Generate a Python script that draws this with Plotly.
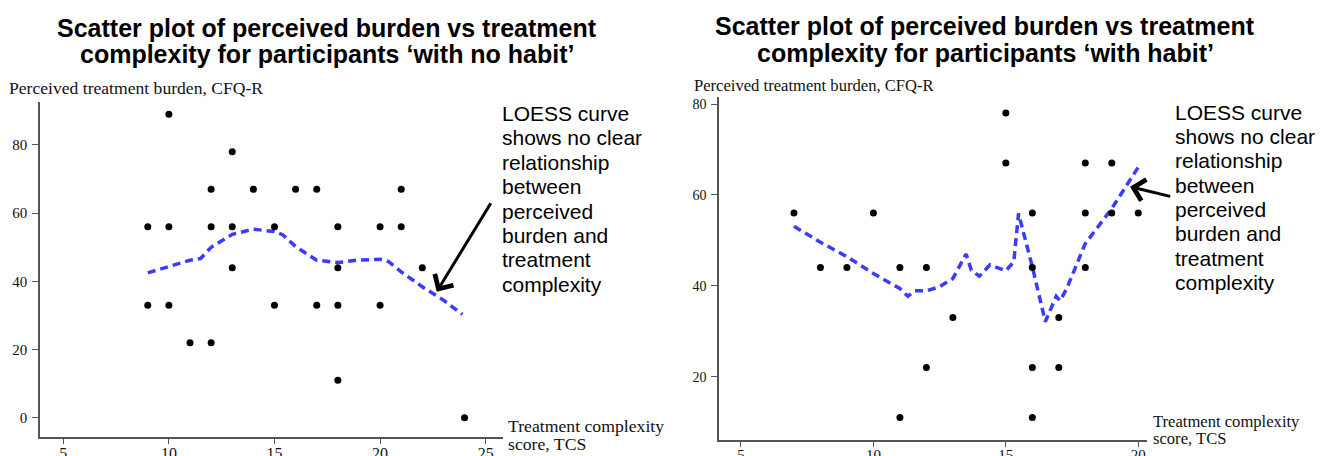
import plotly.graph_objects as go

W, H = 1329, 456

# ---------------- data ----------------
# participants 'with no habit'
x_nohabit = [9, 9, 10, 10, 10, 11, 12, 12, 12, 13, 13, 13, 14, 15, 15, 16, 17, 17,
             18, 18, 18, 18, 20, 20, 21, 21, 22, 24]
y_nohabit = [56, 33, 89, 56, 33, 22, 67, 56, 22, 78, 56, 44, 67, 56, 33, 67, 67, 33,
             56, 44, 33, 11, 56, 33, 67, 56, 44, 0]
loess_x_nohabit = [9, 10, 11, 11.5, 12, 13, 14, 15, 15.4, 16, 17, 18, 18.9, 20, 20.4,
                   21, 22, 23, 23.9]
loess_y_nohabit = [42.5, 44.3, 46.2, 46.7, 50, 53.8, 55.3, 54.6, 53.6, 50.2, 46.2, 45.5,
                   46.2, 46.5, 45.8, 42.8, 38.4, 34.5, 30.3]

# participants 'with habit'
x_habit = [7, 8, 9, 10, 11, 11, 12, 12, 13, 15, 15, 16, 16, 16, 16, 17, 17, 18, 18, 18,
           19, 19, 20]
y_habit = [56, 44, 44, 56, 44, 11, 44, 22, 33, 78, 67, 56, 44, 22, 11, 33, 22, 67, 56, 44,
           67, 56, 56]
loess_x_habit = [7, 8, 9, 10, 11, 11.3, 11.57, 12, 12.5, 13, 13.5, 13.7, 14, 14.4, 15,
                 15.3, 15.48, 16, 16.49, 16.9, 17.05, 17.3, 18, 19, 20]
loess_y_habit = [53.1, 49.6, 46.4, 42.7, 39.4, 37.7, 38.9, 38.9, 39.8, 41.6, 47.0, 43.4,
                 42.1, 44.6, 43.3, 45.3, 55.9, 44.2, 32.1, 37.7, 36.7, 39.4, 49.3, 57.0,
                 66.1]

x_ticks_nohabit = [5, 10, 15, 20, 25]
y_ticks_nohabit = [0, 20, 40, 60, 80]
x_ticks_habit = [5, 10, 15, 20]
y_ticks_habit = [20, 40, 60, 80]

title_nohabit = ["Scatter plot of perceived burden vs treatment",
                 "complexity for participants \u2018with no habit\u2019"]
title_habit = ["Scatter plot of perceived burden vs treatment",
               "complexity for participants \u2018with habit\u2019"]
note_lines = ["LOESS curve", "shows no clear", "relationship", "between",
              "perceived", "burden and", "treatment", "complexity"]
y_label = "Perceived treatment burden, CFQ-R"
x_label = ["Treatment complexity", "score, TCS"]

# ---------------- helpers ----------------
def px(x):
    return x / W

def py(y):
    return (H - y) / H

SANS = "Liberation Sans, Arial, sans-serif"
SERIF = "Liberation Serif, Times New Roman, serif"
AXC = "#555555"
LOESS_C = "#3b3bff"

fig = go.Figure()

fig.add_trace(go.Scatter(x=loess_x_nohabit, y=loess_y_nohabit, mode="lines",
                         line=dict(color=LOESS_C, width=3.5, dash="8px,5px"),
                         xaxis="x", yaxis="y", hoverinfo="skip", showlegend=False))
fig.add_trace(go.Scatter(x=x_nohabit, y=y_nohabit, mode="markers",
                         marker=dict(color="black", size=7),
                         xaxis="x", yaxis="y", cliponaxis=False, showlegend=False))
fig.add_trace(go.Scatter(x=loess_x_habit, y=loess_y_habit, mode="lines",
                         line=dict(color=LOESS_C, width=3.5, dash="8px,5px"),
                         xaxis="x2", yaxis="y2", hoverinfo="skip", showlegend=False))
fig.add_trace(go.Scatter(x=x_habit, y=y_habit, mode="markers",
                         marker=dict(color="black", size=7),
                         xaxis="x2", yaxis="y2", cliponaxis=False, showlegend=False))

def axis(domain, rng, ticks, anchor, size, ticklen, standoff):
    return dict(domain=domain, range=rng, tickvals=ticks, anchor=anchor,
                showgrid=False, zeroline=False, showline=True, linecolor=AXC,
                linewidth=1.5, ticks="outside", ticklen=ticklen, tickcolor=AXC,
                tickwidth=1.2, ticklabelstandoff=standoff,
                tickfont=dict(family=SERIF, size=size, color="#111"), fixedrange=True)

annotations = []

def text(x, y, s, size, family, bold=False, xanchor="left", color="#111"):
    annotations.append(dict(x=px(x), y=py(y), xref="paper", yref="paper", text=s,
                            showarrow=False, xanchor=xanchor, yanchor="middle",
                            font=dict(family=family, size=size, color=color)))

# titles (one annotation per line)
text(327, 28, "<b>%s</b>" % title_nohabit[0], 25, SANS, xanchor="center", color="black")
text(327, 54.5, "<b>%s</b>" % title_nohabit[1], 25, SANS, xanchor="center", color="black")
text(985, 26.2, "<b>%s</b>" % title_habit[0], 25, SANS, xanchor="center", color="black")
text(985, 52.9, "<b>%s</b>" % title_habit[1], 25, SANS, xanchor="center", color="black")

# y-axis labels
text(7, 88.3, y_label, 17.6, SERIF)
text(692, 85.1, y_label, 16.6, SERIF)

# x-axis labels
text(506, 426.2, x_label[0], 17.7, SERIF)
text(506, 443.8, x_label[1], 17.7, SERIF)
text(1151, 421.4, x_label[0], 16.6, SERIF)
text(1151, 438.7, x_label[1], 16.6, SERIF)

# notes
for i, line in enumerate(note_lines):
    text(500, 113.4 + 24.4 * i, line, 21, SANS, color="black")
    text(1173, 112.0 + 24.4 * i, line, 21, SANS, color="black")

# arrows
annotations.append(dict(x=px(436.7), y=py(291.7), xref="paper", yref="paper",
                        ax=491.7 - 436.7, ay=201.7 - 291.7, axref="pixel", ayref="pixel",
                        showarrow=True, arrowhead=4, arrowsize=1.4, arrowwidth=3,
                        arrowcolor="black", text=""))
annotations.append(dict(x=px(1130), y=py(186.7), xref="paper", yref="paper",
                        ax=1171.7 - 1130, ay=196.7 - 186.7, axref="pixel", ayref="pixel",
                        showarrow=True, arrowhead=4, arrowsize=1.4, arrowwidth=3,
                        arrowcolor="black", text=""))

fig.update_layout(
    width=W, height=H,
    margin=dict(l=0, r=0, t=0, b=0, autoexpand=False),
    paper_bgcolor="white", plot_bgcolor="white",
    showlegend=False,
    xaxis=axis([px(40), px(503)], [3.897, 25.82], x_ticks_nohabit, "y", 16, 6, -5),
    yaxis=axis([py(436.7), py(101.7)], [-5.57, 92.70], y_ticks_nohabit, "x", 15, 6, 2),
    xaxis2=axis([px(719), px(1147)], [4.17, 20.33], x_ticks_habit, "y2", 15, 5, -5),
    yaxis2=axis([py(440), py(96.7)], [6.07, 81.61], y_ticks_habit, "x2", 14, 6, 2),
    annotations=annotations,
)

fig.write_html("out.html", config=dict(displayModeBar=False))
